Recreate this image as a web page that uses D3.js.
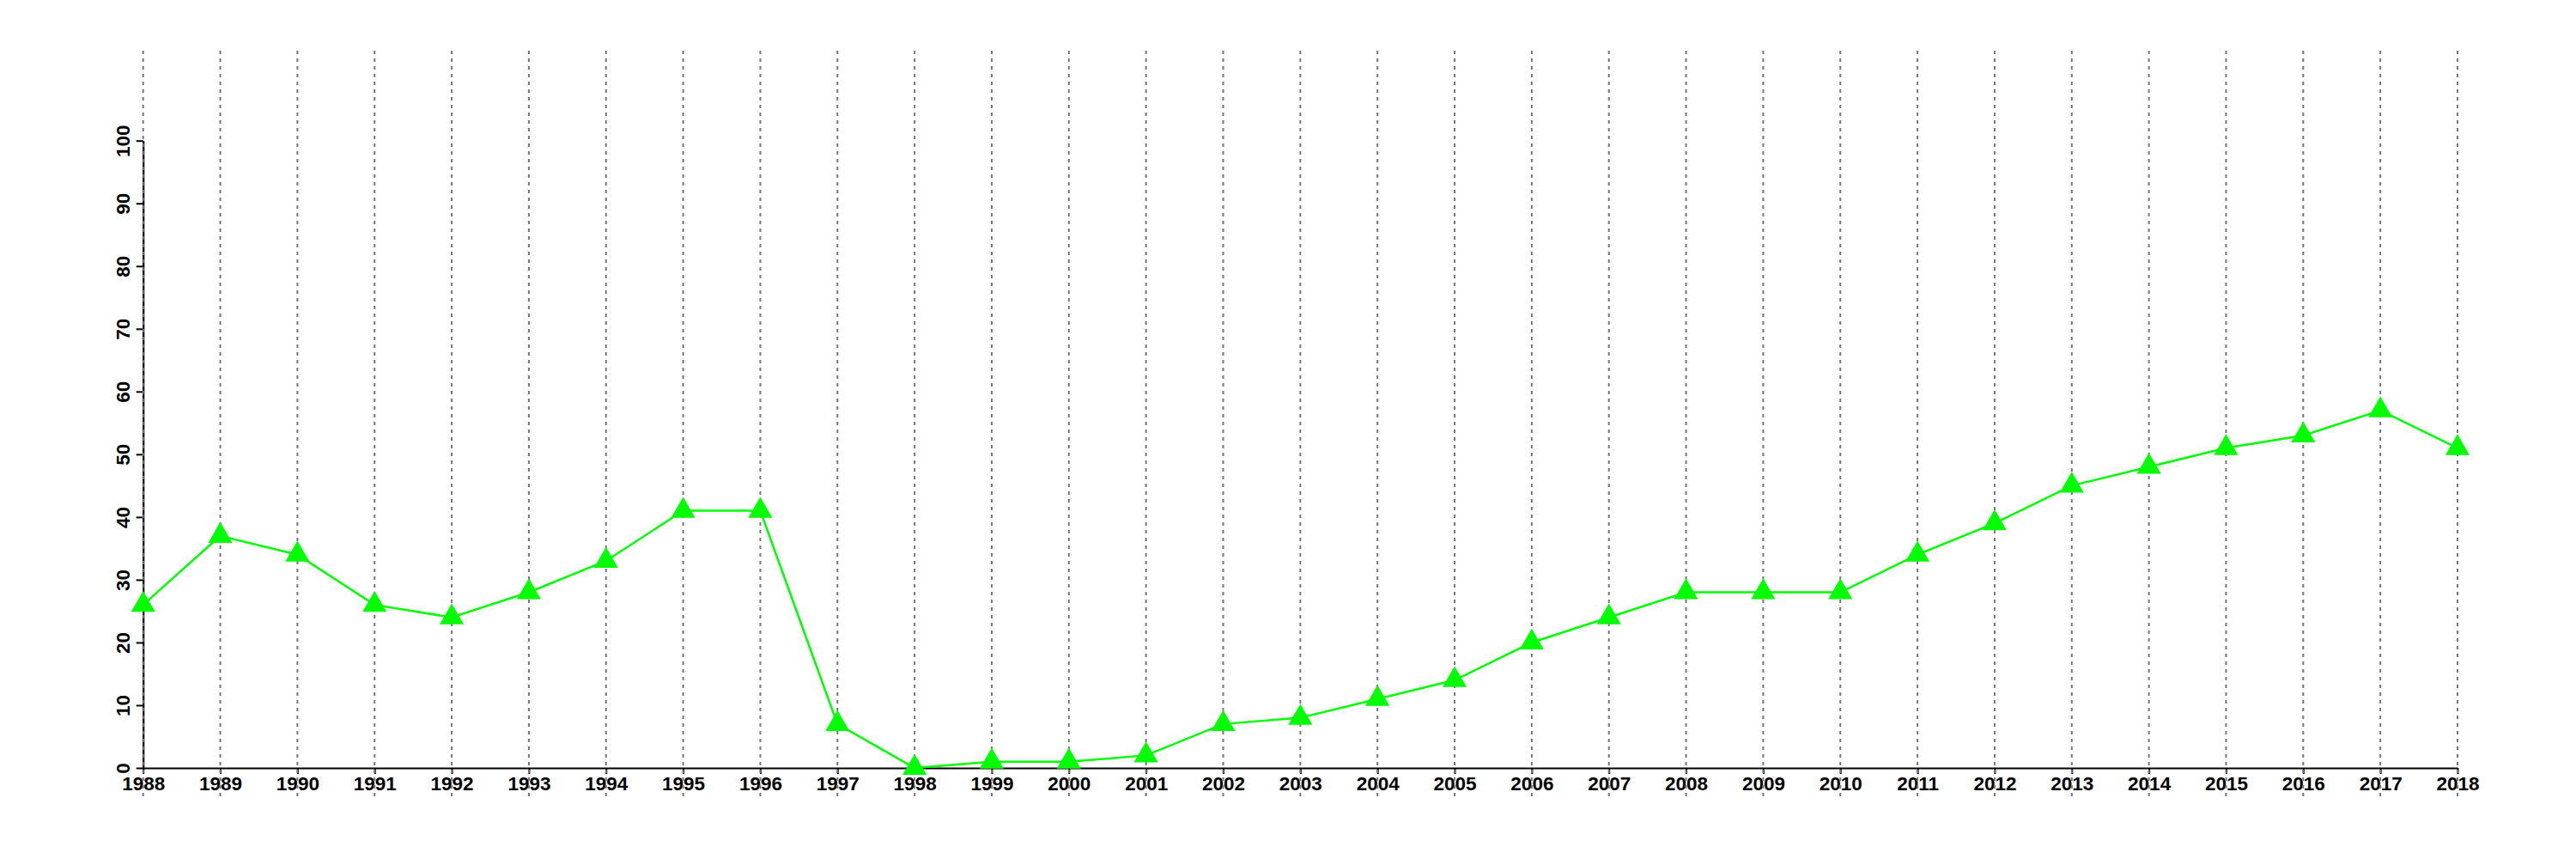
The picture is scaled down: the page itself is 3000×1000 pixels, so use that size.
<!DOCTYPE html>
<html>
<head>
<meta charset="utf-8">
<script src="https://cdn.jsdelivr.net/npm/d3@7"></script>
<style>
  html, body { margin: 0; padding: 0; background: #fff; }
  svg { display: block; }
  text { font-family: "Liberation Sans", Arial, sans-serif; font-weight: bold; }
</style>
</head>
<body>
<script>
const years = [1988,1989,1990,1991,1992,1993,1994,1995,1996,1997,1998,1999,2000,2001,2002,2003,2004,2005,2006,2007,2008,2009,2010,2011,2012,2013,2014,2015,2016,2017,2018];
const values = [26,37,34,26,24,28,33,41,41,7,0,1,1,2,7,8,11,14,20,24,28,28,28,34,39,45,48,51,53,57,51];
const yTicks = [0,10,20,30,40,50,60,70,80,90,100];

const W = 3000, H = 1000;
const svg = d3.select("body").append("svg").attr("width", W).attr("height", H);

const x = d3.scaleLinear().domain([1988, 2018]).range([166.7, 2862]);
const y = d3.scaleLinear().domain([0, 100]).range([894, 163.7]);

// axes
const gx = svg.append("g").attr("transform", `translate(0,${y(0)})`)
  .call(d3.axisBottom(x).tickValues(years).tickFormat(d3.format("d")).tickSize(7).tickSizeOuter(0));
gx.select(".domain").attr("stroke", "#000").attr("stroke-width", 2.2);
gx.selectAll(".tick line").attr("stroke", "#000").attr("stroke-width", 2);
gx.selectAll(".tick text").attr("font-size", 22.5).attr("fill", "#000")
  .attr("font-family", "'Liberation Sans', Arial, sans-serif").attr("font-weight", "bold");

const gy = svg.append("g").attr("transform", `translate(${x(1988)},0)`)
  .call(d3.axisLeft(y).tickValues(yTicks).tickSize(8).tickSizeOuter(0));
gy.select(".domain").attr("stroke", "#000").attr("stroke-width", 2.2);
gy.selectAll(".tick line").attr("stroke", "#000").attr("stroke-width", 2);
gy.selectAll(".tick text")
  .attr("font-size", 22.5).attr("fill", "#000")
  .attr("font-family", "'Liberation Sans', Arial, sans-serif").attr("font-weight", "bold")
  .attr("text-anchor", "middle")
  .attr("x", 0).attr("y", -15.7).attr("dy", 0)
  .attr("transform", "rotate(-90)");

// vertical dotted gridlines
svg.append("g").selectAll("line").data(years).join("line")
  .attr("x1", d => x(d)).attr("x2", d => x(d))
  .attr("y1", 59).attr("y2", 928)
  .attr("stroke", "#777").attr("stroke-width", 2)
  .attr("stroke-dasharray", "4,5");

// series line
const line = d3.line().x((d, i) => x(years[i])).y(d => y(d));
svg.append("path").datum(values)
  .attr("d", line).attr("fill", "none")
  .attr("stroke", "#00ff00").attr("stroke-width", 2.5);

// triangle markers
const tri = d3.symbol().type(d3.symbolTriangle).size(340);
svg.append("g").selectAll("path").data(values).join("path")
  .attr("d", tri)
  .attr("transform", (d, i) => `translate(${x(years[i])},${y(d)})`)
  .attr("fill", "#00ff00");
</script>
</body>
</html>
